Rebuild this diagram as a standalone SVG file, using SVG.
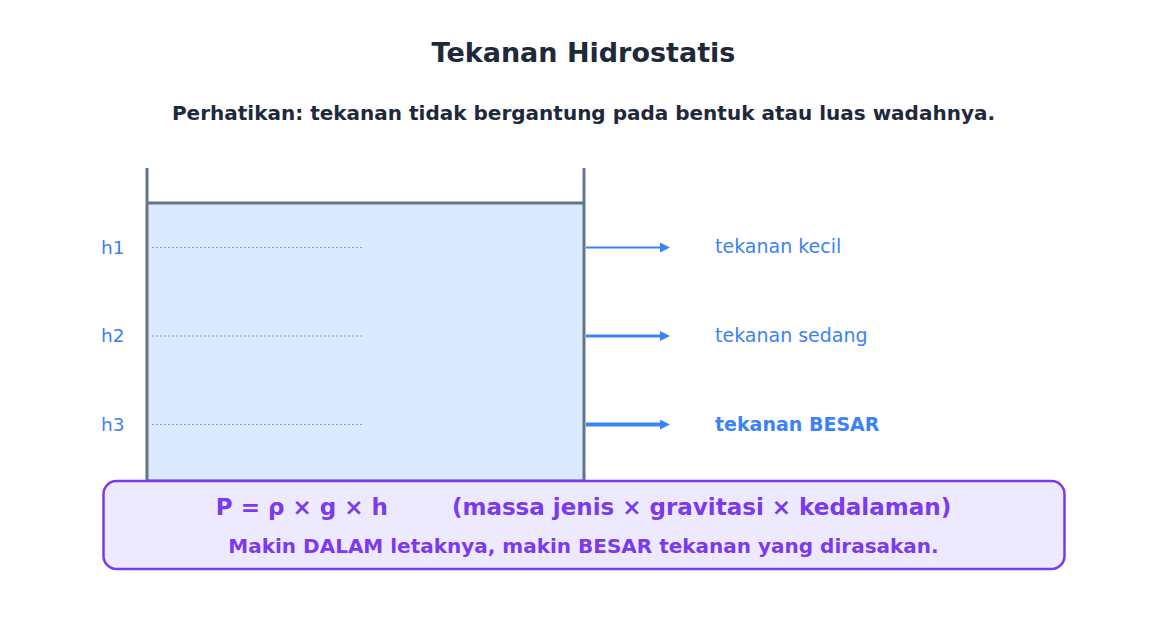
<svg xmlns="http://www.w3.org/2000/svg" width="1167" height="629" viewBox="0 0 1167 629">
<defs>
<style>
text{font-family:"DejaVu Sans","Liberation Sans",sans-serif;}
.title{font-size:27px;font-weight:bold;fill:#1e293b;}
.sub{font-size:20px;font-weight:bold;fill:#1e293b;}
.hl{font-size:18.5px;fill:#3b82f6;}
.lbl{font-size:19px;fill:#3b82f6;}
.wall{stroke:#64748b;stroke-width:3;fill:none;}
.dot{stroke:#94a3b8;stroke-width:1.2;stroke-dasharray:2 2;}
.arr{stroke:#3b82f6;fill:none;}
.f1{font-size:23px;font-weight:bold;fill:#7c3aed;white-space:pre;}
.f2{font-size:20px;font-weight:bold;fill:#7c3aed;}
</style>
<marker id="ah" viewBox="0 0 10 10" refX="1" refY="5" markerWidth="10" markerHeight="10" markerUnits="userSpaceOnUse" orient="auto"><path d="M0,0 L10,5 L0,10 Z" fill="#3b82f6"/></marker>
</defs>
<rect width="1167" height="629" fill="#ffffff"/>
<text class="title" x="583.5" y="61.5" text-anchor="middle">Tekanan Hidrostatis</text>
<text class="sub" x="583.5" y="120" text-anchor="middle">Perhatikan: tekanan tidak bergantung pada bentuk atau luas wadahnya.</text>
<g id="tank">
<rect x="147" y="203" width="437" height="278" fill="#dbeafe"/>
<line class="wall" x1="147" y1="203" x2="584" y2="203"/>
<path class="wall" d="M147,168 V481 H584 V168"/>
</g>
<g id="levels">
<line class="dot" x1="152" y1="247.5" x2="363" y2="247.5"/>
<line class="dot" x1="152" y1="336" x2="363" y2="336"/>
<line class="dot" x1="152" y1="424.5" x2="363" y2="424.5"/>
<text class="hl" x="101" y="253.5">h1</text>
<text class="hl" x="101" y="342">h2</text>
<text class="hl" x="101" y="430.5">h3</text>
</g>
<g id="connectors">
<line class="arr" x1="586" y1="247.5" x2="661" y2="247.5" stroke-width="2" marker-end="url(#ah)"/>
<line class="arr" x1="586" y1="336" x2="661" y2="336" stroke-width="3" marker-end="url(#ah)"/>
<line class="arr" x1="586" y1="424.5" x2="661" y2="424.5" stroke-width="4" marker-end="url(#ah)"/>
</g>
<g id="label-kecil"><text class="lbl" x="715" y="253">tekanan kecil</text></g>
<g id="label-sedang"><text class="lbl" x="715" y="342">tekanan sedang</text></g>
<g id="label-besar"><text class="lbl" x="715" y="430.5" font-weight="bold">tekanan BESAR</text></g>
<g id="formula">
<rect x="103.5" y="481" width="961" height="88" rx="13" fill="#ede9fe" stroke="#7c3aed" stroke-width="2.5"/>
<text class="f1" x="583.5" y="515" text-anchor="middle" xml:space="preserve">P = ρ × g × h        (massa jenis × gravitasi × kedalaman)</text>
<text class="f2" x="583.5" y="553" text-anchor="middle">Makin DALAM letaknya, makin BESAR tekanan yang dirasakan.</text>
</g>
</svg>
